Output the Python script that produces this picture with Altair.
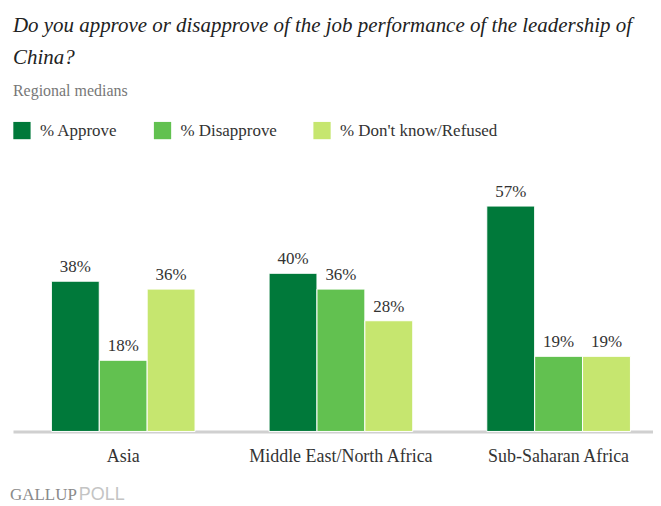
import altair as alt
import pandas as pd

regions = ["Asia", "Middle East/North Africa", "Sub-Saharan Africa"]
series = ["% Approve", "% Disapprove", "% Don't know/Refused"]
approve = [38, 40, 57]
disapprove = [18, 36, 19]
dontknow = [36, 28, 19]
colors = ["#00793A", "#62C150", "#C6E66F"]

rows = []
for i, r in enumerate(regions):
    for s, vals in zip(series, [approve, disapprove, dontknow]):
        rows.append({"region": r, "series": s, "value": vals[i], "label": f"{vals[i]}%"})
df = pd.DataFrame(rows)

serif = "Liberation Serif"

x = alt.X("region:N", sort=regions, title=None,
          scale=alt.Scale(paddingInner=0.34, paddingOuter=0.14, align=0.63),
          axis=alt.Axis(labelAngle=0, labelFont=serif, labelFontSize=18, labelColor="#333",
                        labelLimit=400, domainColor="#d0d0d0", domainWidth=3, ticks=False,
                        labelPadding=16))
xo = alt.XOffset("series:N", sort=series)
y = alt.Y("value:Q", scale=alt.Scale(domain=[0, 60]), axis=None)

base = alt.Chart(df)
bars = base.mark_bar(stroke="white", strokeWidth=1).encode(
    x=x, xOffset=xo, y=y,
    color=alt.Color("series:N", sort=series,
                    scale=alt.Scale(domain=series, range=colors),
                    legend=alt.Legend(title=None, orient="none", direction="horizontal",
                                      legendX=0, legendY=-73,
                                      symbolType="square",
                                      symbolSize=300, symbolStrokeWidth=0,
                                      symbolOpacity=1,
                                      labelFont=serif, labelFontSize=17, labelColor="#333",
                                      labelOffset=9, columnPadding=36)),
)
labels = base.mark_text(dy=-14, font=serif, fontSize=17, color="#333").encode(
    x=x, xOffset=xo, y=y, text="label:N"
)
gallup = alt.Chart(pd.DataFrame({"t": ["GALLUP"]})).mark_text(
    align="left", baseline="alphabetic", font=serif, fontSize=17, color="#8a8a8a"
).encode(x=alt.value(-3), y=alt.value(307), text="t:N")
poll = alt.Chart(pd.DataFrame({"t": ["POLL"]})).mark_text(
    align="left", baseline="alphabetic", font="Liberation Sans", fontSize=18, color="#c4c4c4"
).encode(x=alt.value(66), y=alt.value(307), text="t:N")

chart = alt.layer(bars, labels, gallup, poll).properties(
    width=642, height=238,
    autosize=alt.AutoSizeParams(type="none"),
    padding={"left": 5, "top": 186, "right": 0, "bottom": 74},
    title=alt.TitleParams(
        text=["Do you approve or disapprove of the job performance of the leadership of", "China?"],
        subtitle="Regional medians",
        anchor="start", frame="group", offset=23,
        font=serif, fontSize=21, fontStyle="italic", fontWeight="normal", color="#222",
        lineHeight=32, subtitleFont=serif, subtitleFontSize=16, subtitleColor="#777",
        subtitlePadding=15,
    ),
).configure_view(stroke=None)

chart.save("out.html", embed_options={"renderer": "svg", "actions": False})
